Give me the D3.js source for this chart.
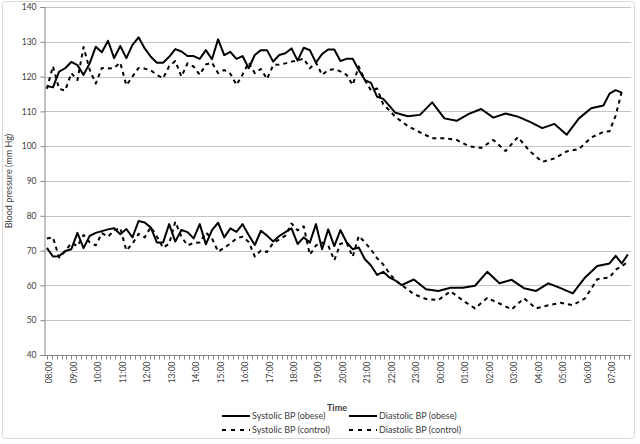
<!DOCTYPE html>
<html><head><meta charset="utf-8">
<script src="https://cdn.jsdelivr.net/npm/d3@7"></script>
<style>
body{margin:0;background:#fff}
svg{display:block}
text{font-family:Lato,"Open Sans",sans-serif;fill:#404040}
</style>
</head><body>
<svg id="chart" width="640" height="444"></svg>
<script>
// ---- data ----
const sysTimes = [
"08:00","08:15","08:30","08:45","09:00","09:15","09:30","09:45",
"10:00","10:15","10:30","10:45","11:00","11:15","11:30","11:45",
"12:00","12:15","12:30","12:45","13:00","13:15","13:30","13:45",
"14:00","14:15","14:30","14:45","15:00","15:15","15:30","15:45",
"16:00","16:15","16:30","16:45","17:00","17:15","17:30","17:45",
"18:00","18:15","18:30","18:45","19:00","19:15","19:30","19:45",
"20:00","20:15","20:30","20:45","21:00","21:15","21:30","21:45",
"22:00","22:15",
"22:45","23:15","23:45","00:15","00:45","01:15","01:45","02:15","02:45","03:15",
"03:45","04:15","04:45","05:15","05:45","06:15","06:45","07:00","07:15","07:30"];
const diaTimes = [
"08:00","08:15","08:30","08:45","09:00","09:15","09:30","09:45",
"10:00","10:15","10:30","10:45","11:00","11:15","11:30","11:45",
"12:00","12:15","12:30","12:45","13:00","13:15","13:30","13:45",
"14:00","14:15","14:30","14:45","15:00","15:15","15:30","15:45",
"16:00","16:15","16:30","16:45","17:00","17:15","17:30","17:45",
"18:00","18:15","18:30","18:45","19:00","19:15","19:30","19:45",
"20:00","20:15","20:30","20:45","21:00","21:15","21:30","21:45",
"22:00","22:15","22:30",
"23:00","23:30","00:00","00:30","01:00","01:30","02:00","02:30","03:00","03:30",
"04:00","04:30","05:00","05:30","06:00","06:30","07:00","07:15","07:30","07:45"];

const sysObese = [
117.3,116.9,121.4,122.4,124.2,123.3,120.5,123.8,128.6,127.0,
130.3,125.3,128.8,125.3,129.1,131.3,128.1,125.7,124.0,124.0,
125.7,127.9,127.2,125.9,125.9,125.1,127.6,125.0,130.7,126.2,
127.1,125.1,125.9,122.4,126.2,127.6,127.6,124.3,126.2,126.7,
128.1,124.6,128.3,127.6,124.0,126.5,127.8,127.8,124.5,125.1,
125.1,121.9,119.0,118.2,114.2,113.6,111.6,109.6,
108.6,109.0,112.6,108.0,107.3,109.3,110.7,108.2,109.4,108.5,
107.0,105.2,106.4,103.3,108.0,110.9,111.7,115.1,116.1,115.4];

const sysControl = [
116.5,123.0,116.5,116.0,121.0,119.0,128.5,122.0,118.0,122.5,
122.3,122.5,124.0,117.5,120.0,122.5,122.3,121.8,120.5,119.5,
123.0,124.5,120.0,123.8,122.9,120.5,123.5,124.0,121.0,121.9,
120.8,117.6,120.6,124.0,121.0,122.2,119.3,123.3,123.5,123.8,
124.3,124.6,125.2,122.4,124.0,120.5,121.9,122.1,121.5,120.5,
117.6,122.9,119.0,116.0,116.6,112.0,110.3,108.4,
105.8,104.0,102.3,102.3,101.8,100.0,99.5,101.8,98.6,102.6,
98.5,95.5,96.5,98.5,99.2,102.5,104.1,104.3,108.8,115.7];

const diaObese = [
70.8,68.3,68.4,69.9,70.4,75.1,70.7,74.2,75.1,75.6,
76.1,76.4,74.7,76.2,73.8,78.5,78.1,76.6,72.3,72.3,
77.6,72.6,75.9,75.3,73.5,77.6,71.8,75.9,78.0,73.8,
76.4,75.4,77.6,74.5,71.6,75.7,74.3,72.6,74.2,75.3,
76.4,71.9,73.8,72.3,77.6,70.4,76.1,71.3,75.9,72.4,
70.4,70.9,67.5,65.7,63.0,63.9,62.3,61.4,60.1,
61.7,58.9,58.4,59.3,59.3,59.9,63.9,60.6,61.6,59.2,
58.4,60.6,59.2,57.7,62.3,65.6,66.3,68.5,66.3,68.9];

const diaControl = [
73.5,73.8,68.0,69.8,72.2,71.3,74.5,72.4,71.5,75.0,
74.0,75.8,76.5,70.0,72.0,74.8,73.8,76.8,74.0,70.8,
72.0,78.3,74.0,71.5,72.2,72.3,75.2,73.5,69.7,70.8,
72.0,73.5,74.0,72.5,68.3,70.0,69.6,72.2,73.2,74.3,
77.8,75.8,77.0,68.8,71.5,72.3,71.5,67.2,72.0,72.3,
68.2,74.2,72.4,70.3,67.8,66.0,63.5,61.4,60.1,
57.5,56.1,55.8,58.3,55.7,53.4,56.4,54.8,53.1,56.3,
53.4,54.3,55.0,54.3,56.3,61.8,62.3,64.5,65.5,66.8];

const hourLabels = ["08:00","09:00","10:00","11:00","12:00","13:00","14:00","15:00",
"16:00","17:00","18:00","19:00","20:00","21:00","22:00","23:00","00:00","01:00",
"02:00","03:00","04:00","05:00","06:00","07:00"];
const yTicks = [40,50,60,70,80,90,100,110,120,130,140];
const legendNames = ["Systolic BP (obese)","Diastolic BP (obese)","Systolic BP (control)","Diastolic BP (control)"];
const yTitle = "Blood pressure (mm Hg)";
const xTitle = "Time";

// ---- chart ----
const svg = d3.select("#chart");
const toMin = s => { const [h,m] = s.split(":").map(Number); let v = h*60+m-480; if (v<0) v+=1440; return v; };

const plotL = 44, plotR = 631, plotT = 7, plotB = 355;
const x = d3.scaleLinear().domain([-7, 1440]).range([plotL, 634]);
const y = d3.scaleLinear().domain([40, 140]).range([plotB, plotT]);

svg.append("rect").attr("x",2.5).attr("y",1.5).attr("width",632).attr("height",437)
  .attr("rx",3).attr("fill","#fff").attr("stroke","#d9d9d9");

// gridlines
svg.append("g").selectAll("line").data(yTicks.filter(v=>v>40)).join("line")
  .attr("x1",plotL).attr("x2",plotR).attr("y1",d=>Math.round(y(d))+0.5).attr("y2",d=>Math.round(y(d))+0.5)
  .attr("stroke","#c4c4c4").attr("stroke-width",1);

// y axis
const yAxis = d3.axisLeft(y).tickValues(yTicks).tickSize(4).tickPadding(4).tickFormat(d3.format("d"));
const gy = svg.append("g").attr("transform",`translate(${plotL+0.5},0)`).call(yAxis);
gy.select(".domain").attr("stroke","#868686");
gy.selectAll(".tick line").attr("stroke","#868686");
gy.selectAll(".tick text").style("font-size","8.5px").attr("fill","#404040");

// x axis (time scale in minutes from 08:00)
const minorTicks = d3.range(0, 1440, 12);
const gx = svg.append("g").attr("transform",`translate(0,${plotB+0.5})`);
gx.append("line").attr("x1",plotL).attr("x2",plotR).attr("stroke","#868686");
gx.selectAll("line.tk").data(minorTicks).join("line").attr("class","tk")
  .attr("x1",d=>Math.round(x(d))+0.5).attr("x2",d=>Math.round(x(d))+0.5).attr("y1",0).attr("y2",4)
  .attr("stroke","#868686");
gx.selectAll("text").data(hourLabels).join("text")
  .attr("transform",d=>`translate(${x(toMin(d))+2.5},6) rotate(-90)`)
  .attr("text-anchor","end").attr("dy","0.35em")
  .style("font-size","8.5px").text(d=>d);

// titles
svg.append("text").attr("transform",`translate(12,${(plotT+plotB)/2}) rotate(-90)`)
  .attr("text-anchor","middle").style("font-size","9px").text(yTitle);
svg.append("text").attr("x",337).attr("y",411).attr("text-anchor","middle")
  .style("font-size","9px").style("font-weight","bold").text(xTitle);

// lines
const series = [
  {times: sysTimes, vals: sysObese, dash: null},
  {times: diaTimes, vals: diaObese, dash: null},
  {times: sysTimes, vals: sysControl, dash: "4,4"},
  {times: diaTimes, vals: diaControl, dash: "4,4"}
];
const line = d3.line().x(d=>x(d.t)).y(d=>y(d.v));
series.forEach(s => {
  const pts = s.times.map((t,i)=>({t:toMin(t), v:s.vals[i]}));
  svg.append("path").datum(pts).attr("d",line).attr("fill","none")
    .attr("stroke","#000").attr("stroke-width",2).attr("stroke-linejoin","round")
    .attr("stroke-dasharray",s.dash);
});

// legend
const legPos = [[222,416],[349,416],[222,430],[349,430]];
const legDash = [null,null,"4,5","4,5"];
legendNames.forEach((n,i)=>{
  const [lx,ly] = legPos[i];
  svg.append("line").attr("x1",lx).attr("x2",lx+28).attr("y1",ly).attr("y2",ly)
    .attr("stroke","#000").attr("stroke-width",2).attr("stroke-dasharray",legDash[i]);
  svg.append("text").attr("x",lx+30).attr("y",ly).attr("dy","0.35em")
    .style("font-size","9px").text(n);
});
</script>
</body></html>
